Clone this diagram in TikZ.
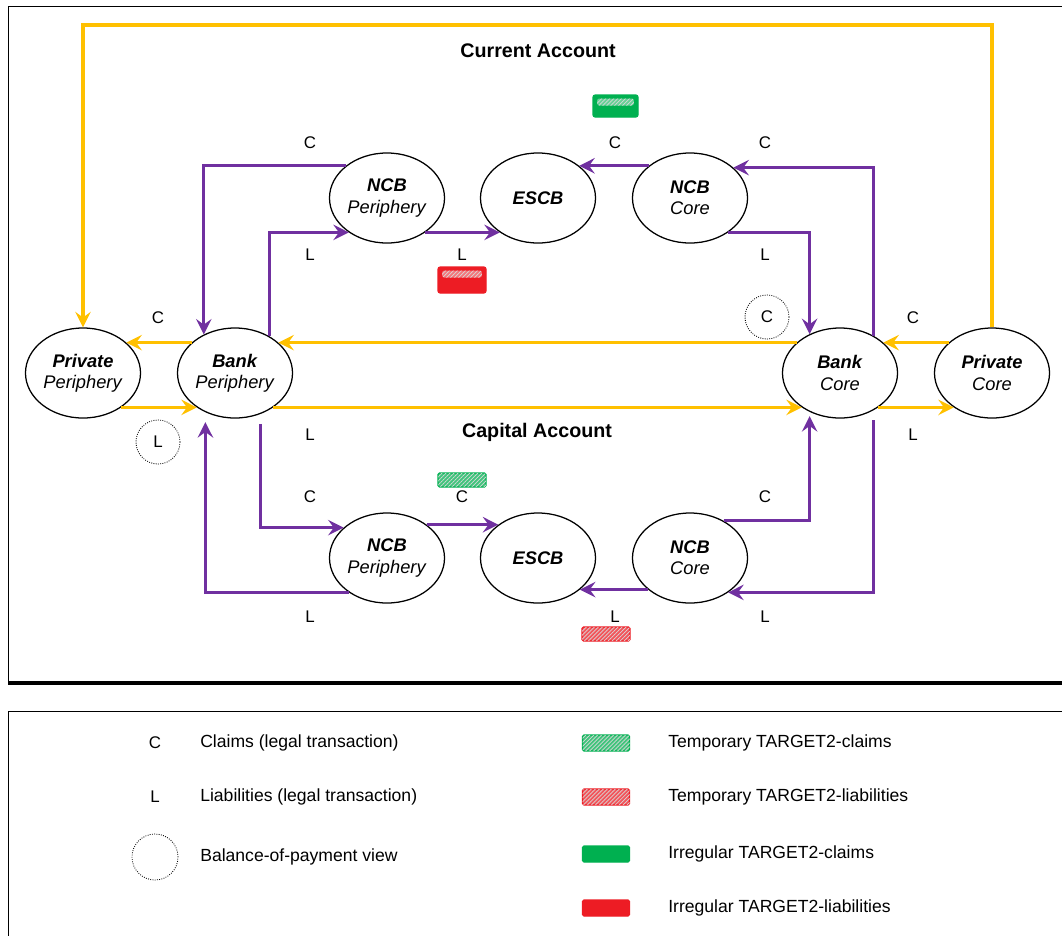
\documentclass[tikz,border=0pt]{standalone}
\usepackage{fontspec}
\setmainfont{Liberation Sans}
\usetikzlibrary{arrows.meta,shapes.geometric,patterns.meta}

\definecolor{goldflow}{RGB}{255,192,0}
\definecolor{purpflow}{RGB}{112,48,160}
\definecolor{tgreen}{RGB}{0,176,80}
\definecolor{tred}{RGB}{237,28,36}

\tikzset{
  actor/.style={ellipse, draw, line width=0.9pt, minimum width=2.875cm, minimum height=2.25cm,
    inner sep=0pt, align=center, font=\fontsize{13}{15}\selectfont},
  tip/.style={-{Stealth[length=11pt,width=11pt,inset=4pt]}},
  yflow/.style={draw=goldflow, line width=2.3pt, tip},
  pflow/.style={draw=purpflow, line width=2.3pt, tip},
  cl/.style={font=\fontsize{12}{14}\selectfont, inner sep=1pt},
  bop/.style={circle, draw, densely dotted, line width=0.6pt, minimum size=1.1cm, inner sep=0pt,
    font=\fontsize{12}{14}\selectfont},
  heading/.style={font=\fontsize{14}{16}\selectfont\bfseries},
  legtext/.style={anchor=west, font=\fontsize{12.5}{14}\selectfont, inner sep=0pt},
  tempbox/.style={draw=#1, line width=0.8pt, rounded corners=1pt, fill=#1!75,
    postaction={pattern={Lines[angle=45,distance=2pt,line width=0.5pt]}, pattern color=white!85!black},
    minimum width=1.175cm, minimum height=0.4cm, inner sep=0pt},
  irrbox/.style={draw=#1, line width=0.8pt, rounded corners=1pt, fill=#1,
    minimum width=1.175cm, minimum height=0.4cm, inner sep=0pt},
  mixbox/.style={draw=#1, line width=0.8pt, rounded corners=1.5pt, fill=#1, inner sep=0pt,
    path picture={\fill[#1!60, postaction={pattern={Lines[angle=45,distance=2pt,line width=0.5pt]}, pattern color=white!85!black}]
      ([xshift=3pt,yshift=-2.5pt]path picture bounding box.north west) rectangle
      ([xshift=-3pt,yshift=-7.5pt]path picture bounding box.north east);}},
  smallbox/.style={tempbox=#1, minimum width=1.2cm, minimum height=0.35cm}
}

\begin{document}
\begin{tikzpicture}[x=0.025cm, y=-0.025cm]
    \useasboundingbox (0,0) rectangle (1062,935);

    % Frames
    \draw[line width=0.6pt] (1075,6) -- (8,6) -- (8,683);
    \draw[line width=2.2pt] (8,683) -- (1075,683);
    \draw[line width=0.6pt] (1075,711) -- (8,711) -- (8,945);

    % Headings
    \node[heading] (curacc) at (538,51) {Current Account};
    \node[heading] (capacc) at (537,432) {Capital Account};

    % Sectors
    \node[actor] (privper) at (83,373) {\textbf{\textit{Private}}\\\textit{Periphery}};
    \node[actor] (bankper) at (235,373) {\textbf{\textit{Bank}}\\\textit{Periphery}};
    \node[actor] (bankcore) at (840,373) {\textbf{\textit{Bank}}\\\textit{Core}};
    \node[actor] (privcore) at (992,373) {\textbf{\textit{Private}}\\\textit{Core}};

    % Central banks, current account
    \node[actor] (ncbpt) at (387,198) {\textbf{\textit{NCB}}\\\textit{Periphery}};
    \node[actor] (escbt) at (538,198) {\textbf{\textit{ESCB}}};
    \node[actor] (ncbct) at (690,198) {\textbf{\textit{NCB}}\\\textit{Core}};

    % Central banks, capital account
    \node[actor] (ncbpb) at (387,558) {\textbf{\textit{NCB}}\\\textit{Periphery}};
    \node[actor] (escbb) at (538,558) {\textbf{\textit{ESCB}}};
    \node[actor] (ncbcb) at (690,558) {\textbf{\textit{NCB}}\\\textit{Core}};

    % Goods and money flows between private sectors and banks
    \coordinate (topline) at (538,25);
    \draw[yflow] (privcore.north) |- (topline) -| (privper.north);
    \draw[yflow] (privcore.145) -- (bankcore.35);
    \draw[yflow] (bankcore.145) -- (bankper.35);
    \draw[yflow] (bankper.145) -- (privper.35);
    \draw[yflow] (privper.318) -- (bankper.222);
    \draw[yflow] (bankper.318) -- (bankcore.222);
    \draw[yflow] (bankcore.318) -- (privcore.222);

    % TARGET2 flows, current account
    \draw[pflow] (ncbpt.142) -| (bankper.129);
    \draw[pflow] (bankper.47) |- (ncbpt.222);
    \draw[pflow] (ncbpt.318) -- (escbt.222);
    \draw[pflow] (ncbct.142) -- (escbt.38);
    \draw[pflow] (bankcore.48) |- (ncbct.35);
    \draw[pflow] (ncbct.318) -| (bankcore.128);

    % TARGET2 flows, capital account
    \draw[pflow, shorten <=7pt] (bankper.302) |- (ncbpb.145);
    \draw[pflow, shorten >=7pt] (ncbpb.222) -| (bankper.233);
    \draw[pflow] (ncbpb.40) -- (escbb.140);
    \draw[pflow] (ncbcb.217) -- (escbb.323);
    \draw[pflow, shorten >=3pt] (ncbcb.48) -| (bankcore.232);
    \draw[pflow, shorten <=7pt] (bankcore.312) |- (ncbcb.318);

    % Claims and liabilities
    \node[cl] (c1) at (310,143) {C};
    \node[cl] (l1) at (310,255) {L};
    \node[cl] (l2) at (462,255) {L};
    \node[cl] (c2) at (615,143) {C};
    \node[cl] (c3) at (765,143) {C};
    \node[cl] (l3) at (765,255) {L};
    \node[cl] (c4) at (158,318) {C};
    \node[cl] (c5) at (913,318) {C};
    \node[bop] (bopc) at (767,317) {C};
    \node[bop] (bopl) at (158,442) {L};
    \node[cl] (l4) at (310,435) {L};
    \node[cl] (l5) at (913,435) {L};
    \node[cl] (c6) at (310,497) {C};
    \node[cl] (c7) at (462,497) {C};
    \node[cl] (c8) at (765,497) {C};
    \node[cl] (l6) at (310,617) {L};
    \node[cl] (l7) at (615,617) {L};
    \node[cl] (l8) at (765,617) {L};

    % TARGET2 balances
    \node[mixbox=tgreen, minimum width=1.125cm, minimum height=0.55cm] (gtop) at (615.5,106) {};
    \node[mixbox=tred, minimum width=1.2cm, minimum height=0.65cm] (rtop) at (462,280) {};
    \node[smallbox=tgreen] (gbot) at (462,480) {};
    \node[smallbox=tred] (rbot) at (606,634) {};

    % Legend
    \node[cl] (legc) at (155,743) {C};
    \node[legtext] (legctxt) at (200,743) {Claims (legal transaction)};
    \node[cl] (legl) at (155,797) {L};
    \node[legtext] (legltxt) at (200,797) {Liabilities (legal transaction)};
    \node[bop, minimum size=1.15cm] (legbop) at (155,857) {};
    \node[legtext] (legboptxt) at (200,857) {Balance-of-payment view};
    \node[tempbox=tgreen] (leg1) at (606,743) {};
    \node[legtext] (leg1txt) at (668,743) {Temporary TARGET2-claims};
    \node[tempbox=tred] (leg2) at (606,797) {};
    \node[legtext] (leg2txt) at (668,797) {Temporary TARGET2-liabilities};
    \node[irrbox=tgreen] (leg3) at (606,854) {};
    \node[legtext] (leg3txt) at (668,854) {Irregular TARGET2-claims};
    \node[irrbox=tred] (leg4) at (606,908) {};
    \node[legtext] (leg4txt) at (668,908) {Irregular TARGET2-liabilities};
\end{tikzpicture}
\end{document}
